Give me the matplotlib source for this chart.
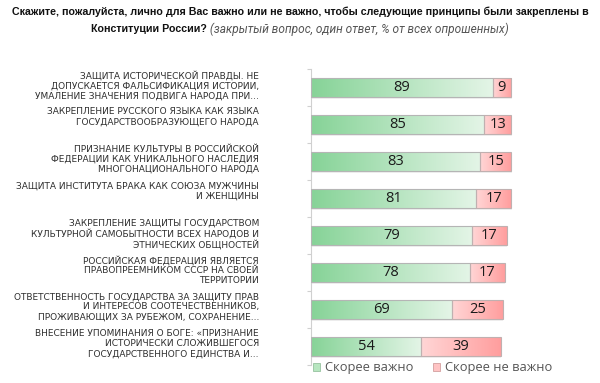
import matplotlib
matplotlib.use("Agg")
import matplotlib.pyplot as plt
import numpy as np
from matplotlib.colors import LinearSegmentedColormap
from matplotlib.transforms import offset_copy
from matplotlib import font_manager as fm

categories = [
    "Защита исторической правды. Не\nдопускается фальсификация истории,\nумаление значения подвига народа при...",
    "Закрепление русского языка как языка\nгосударствообразующего народа",
    "Признание культуры в Российской\nФедерации как уникального наследия\nмногонационального народа",
    "Защита института брака как союза мужчины\nи женщины",
    "Закрепление защиты государством\nкультурной самобытности всех народов и\nэтнических общностей",
    "Российская Федерация является\nправопреемником СССР на своей\nтерритории",
    "Ответственность государства за защиту прав\nи интересов соотечественников,\nпроживающих за рубежом, сохранение...",
    "Внесение упоминания о Боге: «Признание\nисторически сложившегося\nгосударственного единства и...",
]
important = [89, 85, 83, 81, 79, 78, 69, 54]
not_important = [9, 13, 15, 17, 17, 17, 25, 39]
series_names = ["Скорее важно", "Скорее не важно"]

title_bold_1 = "Скажите, пожалуйста, лично для Вас важно или не важно, чтобы следующие принципы были закреплены в"
title_bold_2 = "Конституции России?"
title_note = " (закрытый вопрос, один ответ, % от всех опрошенных)"

W, H = 600, 383
fig = plt.figure(figsize=(W / 100, H / 100), dpi=100)
ax = fig.add_axes([311 / W, 1 - 365 / H, 204 / W, (365 - 69) / H])

green_cmap = LinearSegmentedColormap.from_list("g", ["#86d397", "#e4f5e7"])
red_cmap = LinearSegmentedColormap.from_list("r", ["#ffd6d6", "#ff9e9e"])
grad = np.linspace(0, 1, 256).reshape(1, -1)

y = np.arange(len(categories))
bh = 0.5
g_bars = ax.barh(y, important, height=bh, color="none", edgecolor="#b5b5b5", linewidth=0.8, zorder=3)
r_bars = ax.barh(y, not_important, left=important, height=bh, color="none", edgecolor="#c0b0b0", linewidth=0.8, zorder=3)

for bars, cmap in ((g_bars, green_cmap), (r_bars, red_cmap)):
    for p in bars:
        x0, y0 = p.get_x(), p.get_y()
        w, h = p.get_width(), p.get_height()
        ax.barh(y0 + h / 2 + 0.06, w, left=x0 + 0.3, height=h, color="#000000", alpha=0.06, zorder=1, linewidth=0)
        im = ax.imshow(grad, extent=[x0, x0 + w, y0, y0 + h], cmap=cmap, aspect="auto", zorder=2, interpolation="bilinear")
        im.set_clip_path(p)

for i, (g, r) in enumerate(zip(important, not_important)):
    ax.text(g / 2, i, str(g), ha="center", va="center", fontsize=10.5, family="Open Sans", color="#1a1a1a", zorder=5)
    ax.text(g + r / 2, i, str(r), ha="center", va="center", fontsize=10.5, family="Open Sans", color="#1a1a1a", zorder=5)

ax.set_xlim(0, 100)
ax.set_ylim(len(categories) - 0.5, -0.5)
ax.set_aspect("auto")
for s in ("top", "right", "bottom"):
    ax.spines[s].set_visible(False)
ax.spines["left"].set_color("#d0d0d0")
ax.spines["left"].set_linewidth(0.8)
ax.set_xticks([])
ax.set_yticks([])
ax.set_yticks(np.arange(-0.5, len(categories)), minor=True)
ax.tick_params(axis="y", which="minor", length=3, color="#d0d0d0", width=0.8)

for i, c in enumerate(categories):
    tr = offset_copy(ax.get_yaxis_transform(), fig=fig, x=-52, y=17, units="dots")
    ax.text(0, i, c.upper(), transform=tr, ha="right", va="top", fontsize=6.5,
            family="DejaVu Sans", color="#2e2e2e", linespacing=1.14, multialignment="right")

leg_items = [("#b7e6c0", "#a0c8a8"), ("#ffc4c4", "#d8a8a8")]
lx = [313, 433]
for (fc, ec), x, name in zip(leg_items, lx, series_names):
    fig.patches.append(plt.Rectangle((x / W, 1 - 371 / H), 7 / W, 8 / H, transform=fig.transFigure,
                                     facecolor=fc, edgecolor=ec, linewidth=0.7, figure=fig))
    fig.text((x + 12) / W, 1 - 367 / H, name, ha="left", va="center", fontsize=9.3,
             family="Open Sans", color="#555555")

# title
title_family = "Liberation Sans"
try:
    fm.findfont(fm.FontProperties(family="Liberation Sans Narrow"), fallback_to_default=False)
    title_family = "Liberation Sans Narrow"
except Exception:
    pass

r = fig.canvas.get_renderer()
t0 = fig.text(0.5, 1 - 12 / H, title_bold_1, ha="center", va="center", fontsize=9.5,
              fontweight="bold", family=title_family, color="#111111")
w0 = t0.get_window_extent(r).width
fs = 9.5 * 572 / w0
t0.set_fontsize(fs)

t1 = fig.text(0, 1 - 29 / H, title_bold_2, ha="left", va="center", fontsize=fs,
              fontweight="bold", family=title_family, color="#111111")
t2 = fig.text(0, 1 - 29 / H, title_note, ha="left", va="center", fontsize=8.5,
              style="italic", family="Roboto", color="#555555")
w1 = t1.get_window_extent(r).width
w2 = t2.get_window_extent(r).width
target2 = 513 - 95 - w1
t2.set_fontsize(8.5 * target2 / w2)
w2 = t2.get_window_extent(r).width
start = (W - (w1 + w2)) / 2
t1.set_x(start / W)
t2.set_x((start + w1) / W)

fig.savefig("out.png", dpi=100)
